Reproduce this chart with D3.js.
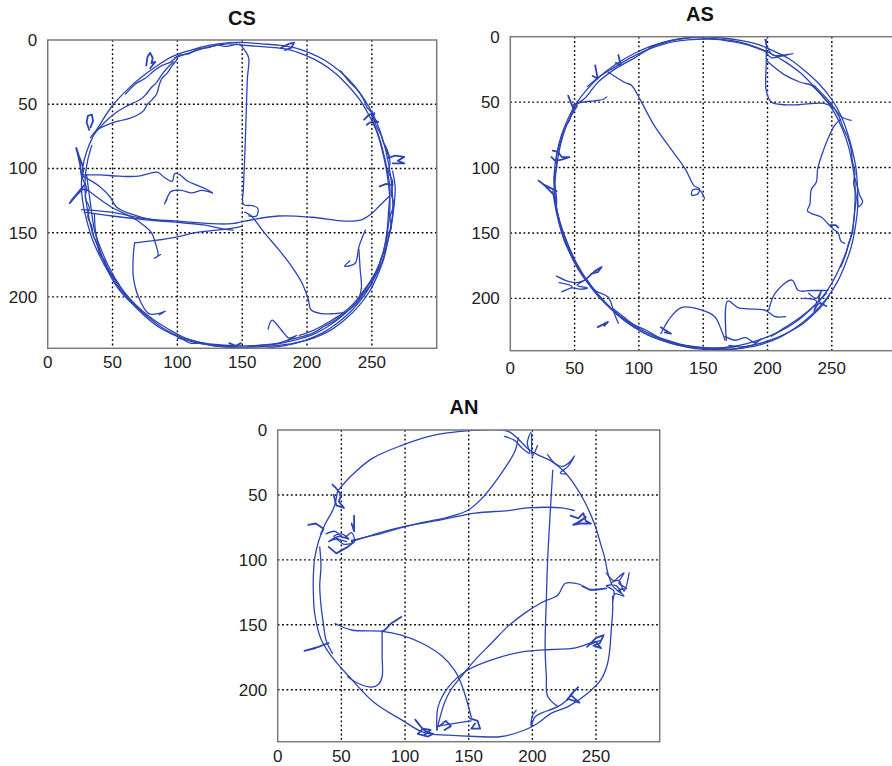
<!DOCTYPE html>
<html><head><meta charset="utf-8">
<script src="https://cdn.jsdelivr.net/npm/d3@7"></script>
<style>body{margin:0;background:#fff}</style>
</head><body><svg id="c" width="892" height="766"></svg>
<script>
const xTicks=[0,50,100,150,200,250];
const yTicks=[0,50,100,150,200];
const gridX=[50,100,150,200,250];
const gridY=[50,100,150,200];
const titles=["CS","AS","AN"];

const csTracks=[
 [[140,2],[152,2],[165,3],[178,4],[190,6],[202,10],[214,16],[226,25],[236,35],[244,46],[251,58],[256,70],[260,83],[263,97],[265,110],[266,122],[266,135],[264,148],[261,162],[257,175],[251,187],[244,199],[235,210],[224,220],[212,228],[198,234],[183,238],[168,240],[152,240],[137,239],[122,237],[108,234],[96,229],[85,223],[74,214],[64,204],[55,193],[47,181],[40,168],[34,154],[30,140],[27,126],[26,112],[27,99],[30,87],[35,75],[42,63],[50,51],[60,40],[71,30],[83,21],[96,13],[110,8],[125,4],[140,2]],
 [[98,14],[112,9],[126,5],[139,3],[150,4],[163,5],[176,6],[188,8],[199,12],[211,18],[222,26],[232,36],[241,47],[248,59],[254,72],[258,86],[261,100],[263,114],[264,128],[263,142],[261,155],[258,168],[253,181],[246,193],[238,204],[228,214],[216,223],[203,230],[189,234],[174,237],[159,238],[144,238],[129,237],[115,235],[102,231],[90,225],[79,217],[69,208],[60,198],[52,187],[45,175],[39,162],[34,148],[31,134],[29,120],[29,106],[31,93],[34,82]],
 [[30,105],[32,120],[34,135],[36,148],[40,160],[45,172],[50,182],[56,192],[63,201],[72,210],[82,218],[93,225],[104,231],[116,235],[130,238],[145,239],[160,239],[175,238],[190,236],[205,232],[218,226],[230,217],[240,207],[248,196],[254,184],[259,171],[262,158],[265,145],[267,130],[268,115],[266,102]],
 [[250,62],[255,74],[259,88],[262,102],[264,117],[263,131],[262,146],[260,160],[256,174],[250,186],[243,196],[236,205],[227,213],[216,220],[205,226],[194,230]],
 [[36,135],[37,150],[40,163],[44,174],[48,183],[52,190],[58,198],[66,206]],
 [[60,42],[68,34],[75,30],[82,24],[88,20],[95,17],[101,12],[108,11],[116,7],[124,6],[131,4],[138,5],[146,3]],
 [[226,24],[233,33],[238,38],[243,45],[246,52],[250,57],[253,66],[257,74],[259,80],[262,86],[264,95],[263,103],[266,110],[265,120],[267,128],[264,138],[265,146],[262,152],[261,161],[257,170],[255,178],[249,189]],
 [[250,190],[244,197],[238,205],[230,212],[222,218],[213,223],[205,228],[196,231],[187,233],[178,236],[170,237],[160,238],[150,240],[140,238],[128,238],[118,236],[110,236],[104,233],[100,232]],
 [[28,100],[27,108],[30,115],[29,123],[32,130],[31,138],[34,145],[35,152],[38,158],[40,166],[44,172],[46,178],[50,184],[55,190]],
 [[33,76],[38,70],[46,66],[55,63],[63,61],[70,58],[74,55],[77,50],[80,47],[84,42],[86,35],[88,30],[92,26],[96,20],[100,15]],
 [[36,73],[44,64],[52,57],[60,52],[66,49],[72,46],[76,42],[80,37],[84,33],[88,27],[92,22],[97,17]],
 [[76,20],[77,13],[79,10],[81,14],[80,18],[83,17],[79,22]],
 [[32,70],[30,64],[31,59],[34,58],[35,63],[33,68]],
 [[26,105],[25,97],[23,88],[22,84],[24,90],[27,98]],
 [[29,112],[24,118],[19,124],[17,127],[22,121],[27,116],[31,117]],
 [[180,6],[186,3],[190,2],[188,6],[183,8]],
 [[244,62],[248,58],[252,57],[250,61],[255,64],[249,64],[246,66]],
 [[262,92],[268,90],[275,91],[270,94],[275,96],[266,96]],
 [[256,114],[261,112],[266,113]],
 [[27,105],[40,105],[55,106],[70,106],[78,104],[85,103],[90,107],[96,110],[98,104],[102,105],[108,110],[115,113],[122,116],[127,119]],
 [[92,124],[90,128],[93,121],[95,118],[103,117],[111,119],[119,117],[127,119]],
 [[26,132],[49,134],[75,139],[101,141],[126,143],[142,143],[152,141],[178,137],[204,138],[229,141],[242,140],[250,135],[255,130],[263,122]],
 [[28,134],[50,137],[76,140],[100,142],[120,144],[135,147],[143,148]],
 [[31,117],[49,130],[65,138],[75,145],[80,150],[83,158],[85,168],[82,170],[87,167]],
 [[27,106],[40,114],[48,122],[53,130],[63,135],[81,140],[97,141]],
 [[67,158],[83,156],[96,154],[101,153],[114,150],[139,147],[150,145]],
 [[67,158],[66,168],[66,184],[70,200],[78,213],[85,213],[91,211],[86,214]],
 [[148,3],[152,8],[155,14],[154,30],[153,60],[152,90],[151,115],[151,128],[158,129],[162,131],[161,137],[155,137]],
 [[152,134],[157,137],[167,150],[178,163],[188,176],[196,189],[201,202],[203,210],[211,213],[221,213],[230,212]],
 [[245,148],[240,161],[237,174],[229,176],[233,172]],
 [[240,163],[241,179],[242,192],[240,202]],
 [[170,225],[173,218],[178,223],[182,228],[186,232],[192,230],[185,234]],
 [[140,236],[145,238],[149,236]],
 [[260,82],[263,90]]
];

const asTracks=[
 [[150,0],[165,1],[180,3],[193,6],[205,11],[217,17],[229,26],[240,36],[250,48],[257,60],[262,73],[266,87],[269,102],[270,117],[270,132],[268,147],[265,161],[260,175],[254,188],[246,200],[236,211],[224,221],[211,229],[196,235],[181,238],[166,239],[151,239],[136,237],[121,233],[107,228],[94,220],[82,211],[71,200],[61,188],[52,174],[45,159],[39,143],[35,127],[34,111],[35,96],[38,81],[43,67],[50,53],[59,41],[70,30],[82,21],[96,13],[110,7],[124,3],[138,1],[150,0]],
 [[108,8],[122,4],[136,1],[150,1],[164,2],[178,4],[191,8],[203,13],[215,20],[226,28],[236,38],[245,48],[252,58],[258,70],[263,84],[266,98],[268,112],[268,127],[267,142],[264,156],[259,170],[253,183],[245,196],[235,207],[222,218],[208,226],[193,232],[178,236],[162,238],[147,238],[132,236],[117,232],[103,226],[90,218],[78,208],[67,197],[58,185],[50,171],[43,156],[38,140],[35,124],[35,108],[37,93],[40,79],[45,65],[52,53]],
 [[33,118],[36,135],[40,150],[46,165],[53,178],[60,188],[70,199],[80,209],[92,218],[104,225],[117,231],[130,235],[145,237],[160,238],[175,237]],
 [[60,38],[70,30],[80,24],[92,17],[104,11],[118,6],[132,3],[146,2],[160,2],[174,4],[187,7],[200,12]],
 [[52,52],[48,58],[46,64],[42,70],[40,77],[38,84],[36,92],[36,100],[34,108],[35,116],[36,124],[36,132],[38,140],[40,148],[42,156],[46,164],[49,170],[53,178]],
 [[80,208],[88,214],[96,220],[105,224],[114,229],[122,232],[132,235],[142,237],[152,238],[162,238],[172,239],[182,237],[192,235],[202,232],[212,228],[220,224],[228,219],[236,212],[242,206],[248,198]],
 [[236,37],[244,45],[250,52],[256,62],[259,70],[262,76],[265,86],[266,95],[268,104],[267,112],[269,122],[268,132],[267,140],[266,150],[263,158],[261,166],[257,176]],
 [[49,52],[56,50],[65,49],[72,48],[75,46]],
 [[50,52],[58,47],[68,35],[81,25],[97,16],[112,7],[125,3]],
 [[76,27],[89,35],[94,37],[102,50],[112,68],[125,86],[136,101],[143,114],[147,116],[146,120],[141,121],[142,117],[147,117],[150,121],[151,124]],
 [[66,22],[67,27],[68,32],[64,30]],
 [[84,14],[85,18],[86,22],[82,20]],
 [[45,45],[47,50],[49,55],[50,52]],
 [[33,87],[37,88],[40,92],[46,92],[40,94],[35,95],[32,92]],
 [[36,118],[30,115],[26,113],[22,110],[27,114],[33,120]],
 [[198,2],[200,8],[204,14],[212,14],[220,13],[210,15],[203,16],[199,12]],
 [[199,2],[199,20],[199,41],[203,50],[213,52],[224,52],[244,51],[252,55],[257,61],[265,64]],
 [[200,19],[213,29],[226,35],[234,37],[244,47],[252,55]],
 [[257,63],[252,68],[247,78],[242,91],[239,101],[238,111],[234,117],[233,128],[231,133],[234,135],[242,138],[247,143],[251,147],[255,150],[257,156],[260,158]],
 [[249,144],[253,144],[255,146]],
 [[268,108],[270,115],[272,122],[274,126],[271,130],[270,124]],
 [[36,183],[45,187],[52,188],[58,186],[52,190],[60,192],[55,193],[48,192],[40,195],[48,191],[38,188]],
 [[58,186],[66,179],[71,176],[68,180],[63,181]],
 [[60,186],[66,194],[76,199],[81,212],[84,219]],
 [[68,222],[76,218],[73,221]],
 [[117,227],[125,214],[133,207],[149,209],[159,214],[164,224],[167,232]],
 [[117,222],[125,227],[120,226]],
 [[168,232],[169,202],[177,207],[185,208],[198,209],[206,214],[214,214]],
 [[201,209],[206,196],[219,186],[224,194],[234,194],[247,194]],
 [[167,229],[175,232],[183,230],[190,234],[195,231],[188,236],[178,237],[170,236]],
 [[232,196],[238,200],[242,194],[240,202],[246,206],[240,204],[236,210],[238,202],[228,200]],
 [[246,196],[236,206],[226,214],[214,222],[203,229]]
];

const anTracks=[
 [[47,47],[58,35],[74,22],[97,12],[123,4],[144,1],[160,0],[181,1],[191,9],[196,14],[204,19],[215,24],[225,32],[233,42],[241,55],[249,73],[254,89],[257,99],[259,109],[262,118]],
 [[47,47],[44,60],[37,73],[32,86],[29,99],[28,112],[28,125],[29,141],[34,161],[42,174],[58,192],[76,210],[97,223],[115,233],[134,235],[155,236],[176,236],[194,231],[204,226],[215,218],[228,213],[243,203],[254,192],[259,180],[261,167],[262,153],[263,141],[263,128]],
 [[33,90],[34,105],[33,120],[34,135],[36,150],[38,162],[43,172]],
 [[238,119],[226,118],[220,127],[207,133],[194,141],[181,151],[168,164],[155,177],[144,190],[136,200],[131,210],[127,223],[125,231]],
 [[239,120],[245,123],[250,123],[258,122]],
 [[125,231],[126,213],[134,198],[149,185],[168,177],[191,171],[215,169],[233,168],[246,164],[254,162]],
 [[216,31],[214,64],[212,100],[211,130],[210,167],[211,190],[212,205],[220,213]],
 [[58,85],[76,81],[102,74],[129,69],[155,64],[181,62],[196,60],[223,60],[233,62]],
 [[58,86],[84,78],[115,71],[134,67],[149,62],[160,53],[173,37],[186,17],[189,6]],
 [[38,80],[45,78],[52,83],[58,79],[60,86],[52,88],[46,84],[40,86],[48,82],[56,84],[50,80],[44,82],[54,86]],
 [[24,73],[30,72],[36,76],[34,80]],
 [[60,66],[60,78],[58,72]],
 [[43,42],[46,45],[50,50],[48,55],[52,60],[46,58],[44,50]],
 [[40,90],[46,95],[55,90],[60,86]],
 [[230,66],[236,68],[240,64],[242,70],[246,72],[238,72],[232,73],[238,70],[242,67],[236,71]],
 [[178,5],[186,8],[192,14],[198,18],[196,10],[199,2],[200,20],[204,12]],
 [[212,19],[218,26],[224,28],[230,24],[233,20],[228,28],[222,33],[226,34]],
 [[258,110],[264,116],[268,113],[272,110],[268,118],[274,122],[268,123],[272,128],[265,126],[263,132],[264,124],[258,120],[266,120],[270,126],[262,118],[268,116],[272,124],[276,110]],
 [[243,167],[250,160],[256,158],[253,164],[248,166],[254,168],[250,163],[245,165]],
 [[45,149],[58,154],[82,155],[97,158],[113,164],[129,174],[139,185],[144,195],[149,210],[152,221]],
 [[82,155],[82,174],[82,190],[79,196],[74,198],[63,195],[55,190]],
 [[82,155],[84,154],[89,149],[97,144]],
 [[40,164],[32,167],[21,170],[30,168]],
 [[108,223],[112,228],[116,232],[122,234],[118,236],[110,234],[114,230],[120,231],[115,235]],
 [[127,228],[132,224],[136,228],[131,231]],
 [[151,222],[157,224],[159,230],[152,230],[155,226]],
 [[125,228],[138,226],[152,224]],
 [[227,208],[232,202],[236,198],[230,204],[237,210],[228,207]],
 [[227,208],[220,213],[207,218],[202,221],[199,228],[200,220],[203,216]]
];

const panels=[
 {tracks:csTracks,left:47.7,top:40,width:389,height:308.3,titleX:242,titleY:18,xlab:13.4},
 {tracks:asTracks,left:510.3,top:36.7,width:385.8,height:314,titleX:700,titleY:14,xlab:17.6},
 {tracks:anTracks,left:277.7,top:430,width:382,height:311.7,titleX:464,titleY:407,xlab:14}
];

const svg=d3.select("#c");
const font="Liberation Sans, Arial, Helvetica, sans-serif";
function isTuft(t){
  const ex=d3.extent(t,d=>d[0]), ey=d3.extent(t,d=>d[1]);
  return Math.hypot(ex[1]-ex[0],ey[1]-ey[0])<22;
}
panels.forEach((p,i)=>{
  const x=d3.scaleLinear().domain([0,300]).range([p.left,p.left+p.width]);
  const y=d3.scaleLinear().domain([0,240]).range([p.top,p.top+p.height]);
  const g=svg.append("g");
  const cid="clip"+i;
  g.append("clipPath").attr("id",cid).append("rect")
    .attr("x",p.left).attr("y",p.top).attr("width",p.width).attr("height",p.height);
  g.append("rect").attr("x",p.left).attr("y",p.top).attr("width",p.width).attr("height",p.height)
    .attr("fill","#fff");
  g.selectAll(".gx").data(gridX).join("line")
    .attr("x1",d=>x(d)).attr("x2",d=>x(d)).attr("y1",p.top).attr("y2",p.top+p.height)
    .attr("stroke","#000").attr("stroke-width",1.4).attr("stroke-dasharray","1.8,2.6");
  g.selectAll(".gy").data(gridY).join("line")
    .attr("x1",p.left).attr("x2",p.left+p.width).attr("y1",d=>y(d)).attr("y2",d=>y(d))
    .attr("stroke","#000").attr("stroke-width",1.4).attr("stroke-dasharray","1.8,2.6");
  const smooth=d3.line().x(d=>x(d[0])).y(d=>y(d[1])).curve(d3.curveCatmullRom.alpha(0.5));
  const sharp=d3.line().x(d=>x(d[0])).y(d=>y(d[1]));
  g.append("g").attr("clip-path",`url(#${cid})`).selectAll("path").data(p.tracks).join("path")
    .attr("d",d=>isTuft(d)?sharp(d):smooth(d)).attr("fill","none").attr("stroke","#2c44b4")
    .attr("stroke-width",d=>isTuft(d)?1.8:1.3)
    .attr("stroke-linejoin","round").attr("stroke-linecap","round");
  g.append("rect").attr("x",p.left).attr("y",p.top).attr("width",p.width).attr("height",p.height)
    .attr("fill","none").attr("stroke","#7a7a7a").attr("stroke-width",1.5);
  g.selectAll(".xt").data(xTicks).join("text")
    .attr("x",d=>x(d)).attr("y",p.top+p.height+p.xlab+6).attr("text-anchor","middle")
    .attr("font-family",font).attr("font-size",17).attr("fill","#222").text(d=>d);
  g.selectAll(".yt").data(yTicks).join("text")
    .attr("x",p.left-10.5).attr("y",d=>y(d)+6).attr("text-anchor","end")
    .attr("font-family",font).attr("font-size",17).attr("fill","#222").text(d=>d);
  g.append("text").attr("x",p.titleX).attr("y",p.titleY+7).attr("text-anchor","middle")
    .attr("font-family",font).attr("font-size",20).attr("font-weight","bold").attr("fill","#111")
    .text(titles[i]);
});
</script></body></html>
